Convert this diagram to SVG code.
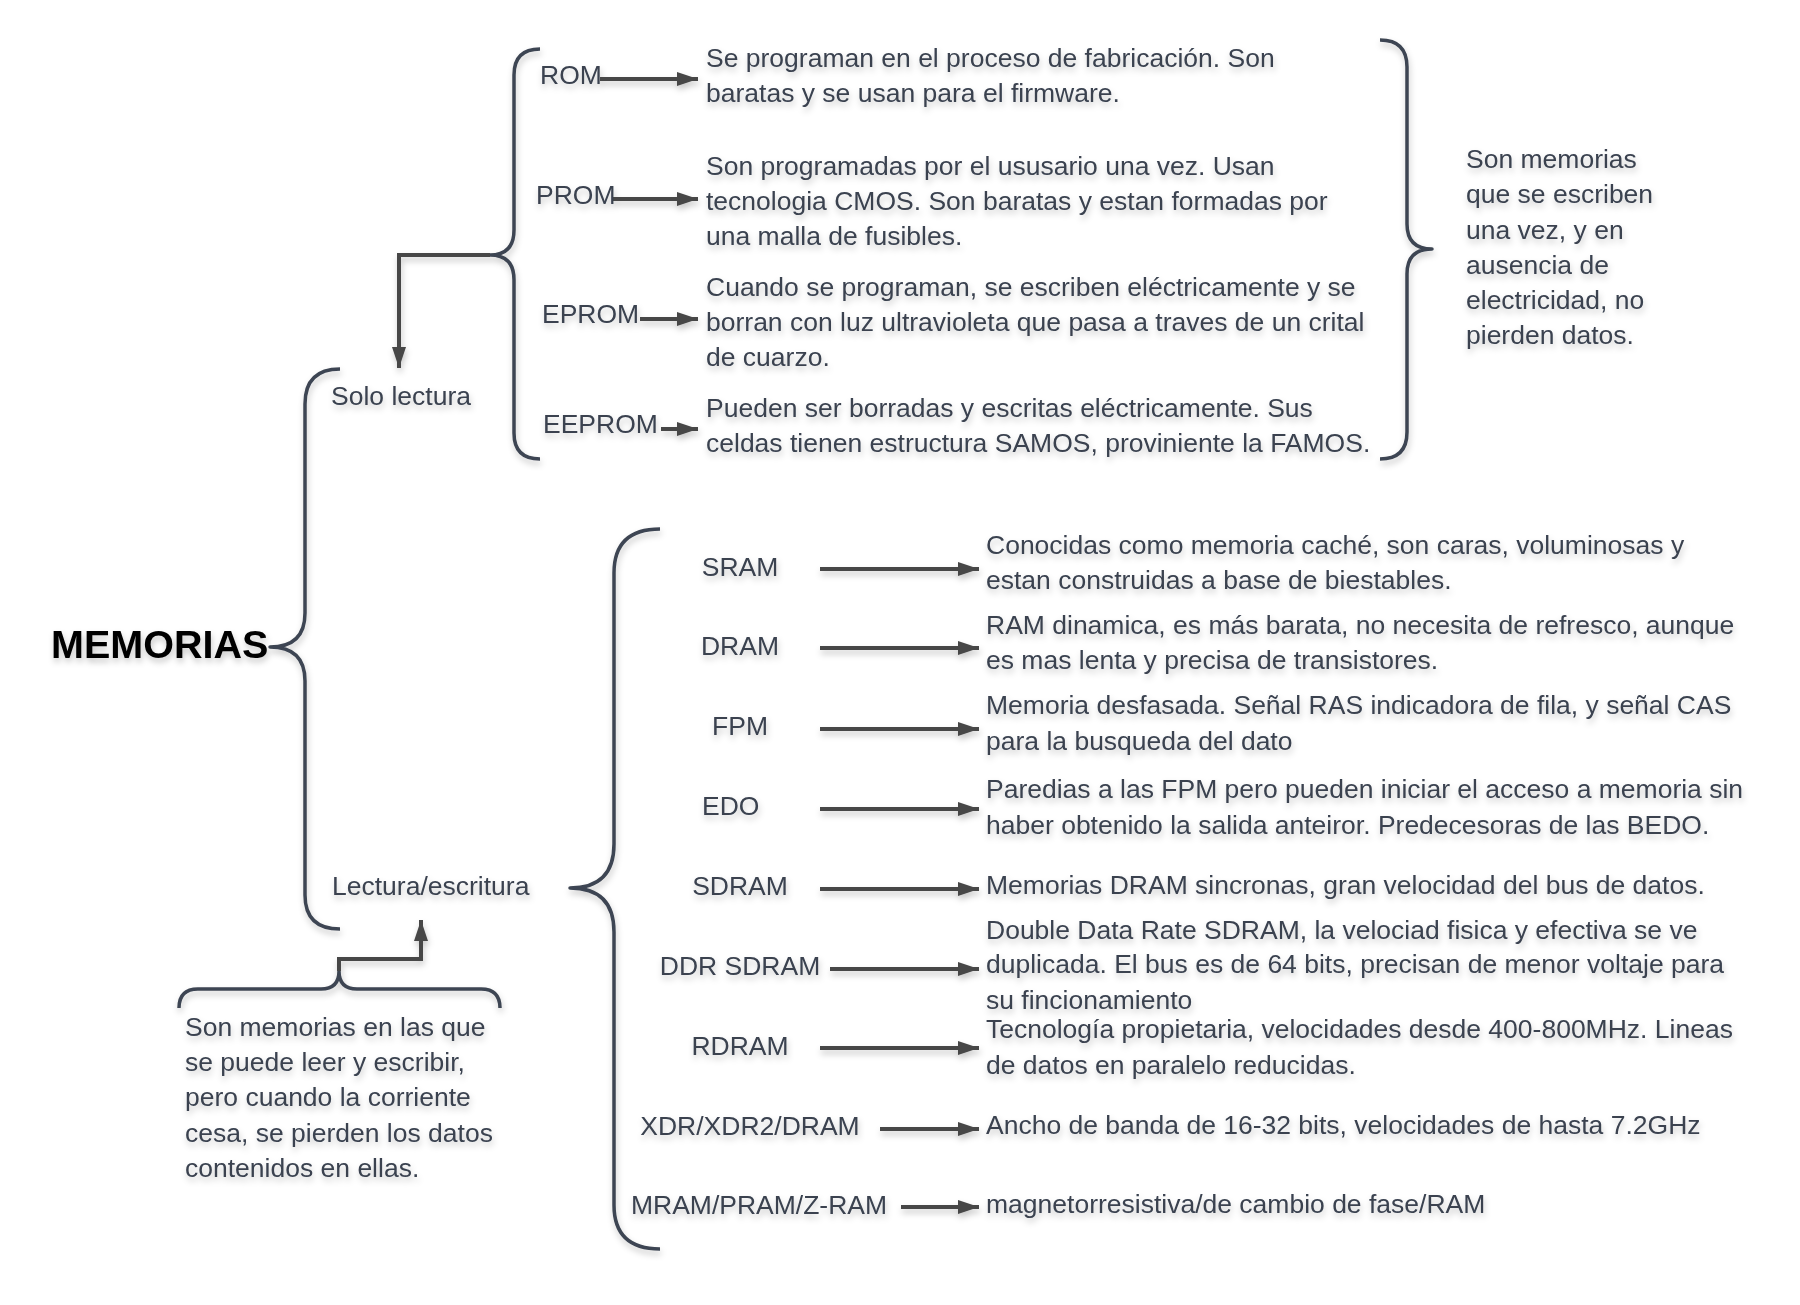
<svg xmlns="http://www.w3.org/2000/svg" width="1800" height="1305" viewBox="0 0 1800 1305">
<defs>
<filter id="sh" x="-10%" y="-20%" width="120%" height="160%">
<feDropShadow dx="1" dy="4" stdDeviation="3" flood-color="#000" flood-opacity="0.22"/>
</filter>
<marker id="ah" viewBox="0 0 21 14" refX="21" refY="7" markerWidth="21" markerHeight="14" markerUnits="userSpaceOnUse" orient="auto">
<path d="M0,0 L21,7 L0,14 Z" fill="#474747"/>
</marker>
</defs>
<style>
text{font-family:"Liberation Sans",Arial,sans-serif;fill:#3a4250;}
.lbl{font-size:26.5px;}
.desc{font-size:26.5px;}
.title{font-size:39.5px;font-weight:bold;fill:#000;}
.brace{fill:none;stroke:#3d4552;stroke-width:3.5;stroke-linejoin:round;stroke-linecap:butt;}
.arr{fill:none;stroke:#474747;stroke-width:4;marker-end:url(#ah);}
</style>
<rect width="1800" height="1305" fill="#ffffff"/>
<g filter="url(#sh)">
<g id="braces">
<path class="brace" d="M540,49 Q514,49 514,75 V230 Q514,255 490,255 Q514,255 514,280 V433 Q514,459 540,459"/>
<path class="brace" d="M1380,40 Q1407,40 1407,67 V224 Q1407,249 1432,249 Q1407,249 1407,274 V432 Q1407,459 1380,459"/>
<path class="brace" d="M340,369 Q305,369 305,404 V613 Q305,647 270,647 Q305,647 305,681 V895 Q305,929 340,929"/>
<path class="brace" d="M660,529 Q614,529 614,573 V844 Q614,888 570,888 Q614,888 614,932 V1205 Q614,1249 660,1249"/>
<path class="brace" d="M179,1008 Q179,989 198,989 H321 Q339,989 339,971 Q339,989 357,989 H481 Q500,989 500,1008"/>
</g>
<g id="connectors">
<path class="arr" d="M490,255 H399 V368"/>
<path class="arr" d="M339,971 V959 H421 V920"/>
<path class="arr" d="M600,79 H698"/>
<path class="arr" d="M613,199 H698"/>
<path class="arr" d="M640,319 H698"/>
<path class="arr" d="M661,429 H698"/>
<path class="arr" d="M820,569 H979"/>
<path class="arr" d="M820,648 H979"/>
<path class="arr" d="M820,729 H979"/>
<path class="arr" d="M820,809 H979"/>
<path class="arr" d="M820,889 H979"/>
<path class="arr" d="M830,969 H979"/>
<path class="arr" d="M820,1048 H979"/>
<path class="arr" d="M880,1129 H979"/>
<path class="arr" d="M901,1207 H979"/>
</g>
<g id="memorias"><text class="title" x="51" y="658">MEMORIAS</text></g>
<g id="solo-lectura"><text class="lbl" x="331" y="405">Solo lectura</text></g>
<g id="lectura-escritura"><text class="lbl" x="332" y="895">Lectura/escritura</text></g>
<g id="nota-lectura-escritura"><text class="desc">
<tspan x="185" y="1036">Son memorias en las que</tspan>
<tspan x="185" y="1071">se puede leer y escribir,</tspan>
<tspan x="185" y="1106">pero cuando la corriente</tspan>
<tspan x="185" y="1142">cesa, se pierden los datos</tspan>
<tspan x="185" y="1177">contenidos en ellas.</tspan>
</text></g>
<g id="nota-solo-lectura"><text class="desc">
<tspan x="1466" y="168">Son memorias</tspan>
<tspan x="1466" y="203">que se escriben</tspan>
<tspan x="1466" y="239">una vez, y en</tspan>
<tspan x="1466" y="274">ausencia de</tspan>
<tspan x="1466" y="309">electricidad, no</tspan>
<tspan x="1466" y="344">pierden datos.</tspan>
</text></g>
<g id="rom"><text class="lbl" x="540" y="84">ROM</text></g>
<g id="rom-desc"><text class="desc">
<tspan x="706" y="67">Se programan en el proceso de fabricación. Son</tspan>
<tspan x="706" y="102">baratas y se usan para el firmware.</tspan>
</text></g>
<g id="prom"><text class="lbl" x="536" y="204">PROM</text></g>
<g id="prom-desc"><text class="desc">
<tspan x="706" y="175">Son programadas por el ususario una vez. Usan</tspan>
<tspan x="706" y="210">tecnologia CMOS. Son baratas y estan formadas por</tspan>
<tspan x="706" y="245">una malla de fusibles.</tspan>
</text></g>
<g id="eprom"><text class="lbl" x="542" y="323">EPROM</text></g>
<g id="eprom-desc"><text class="desc">
<tspan x="706" y="296">Cuando se programan, se escriben eléctricamente y se</tspan>
<tspan x="706" y="331">borran con luz ultravioleta que pasa a traves de un crital</tspan>
<tspan x="706" y="366">de cuarzo.</tspan>
</text></g>
<g id="eeprom"><text class="lbl" x="543" y="433">EEPROM</text></g>
<g id="eeprom-desc"><text class="desc">
<tspan x="706" y="417">Pueden ser borradas y escritas eléctricamente. Sus</tspan>
<tspan x="706" y="452">celdas tienen estructura SAMOS, proviniente la FAMOS.</tspan>
</text></g>
<g id="sram"><text class="lbl" x="740" y="576" text-anchor="middle">SRAM</text></g>
<g id="sram-desc"><text class="desc">
<tspan x="986" y="554">Conocidas como memoria caché, son caras, voluminosas y</tspan>
<tspan x="986" y="589">estan construidas a base de biestables.</tspan>
</text></g>
<g id="dram"><text class="lbl" x="740" y="655" text-anchor="middle">DRAM</text></g>
<g id="dram-desc"><text class="desc">
<tspan x="986" y="634">RAM dinamica, es más barata, no necesita de refresco, aunque</tspan>
<tspan x="986" y="669">es mas lenta y precisa de transistores.</tspan>
</text></g>
<g id="fpm"><text class="lbl" x="740" y="735" text-anchor="middle">FPM</text></g>
<g id="fpm-desc"><text class="desc">
<tspan x="986" y="714">Memoria desfasada. Señal RAS indicadora de fila, y señal CAS</tspan>
<tspan x="986" y="750">para la busqueda del dato</tspan>
</text></g>
<g id="edo"><text class="lbl" x="702" y="815">EDO</text></g>
<g id="edo-desc"><text class="desc">
<tspan x="986" y="798">Paredias a las FPM pero pueden iniciar el acceso a memoria sin</tspan>
<tspan x="986" y="834">haber obtenido la salida anteiror. Predecesoras de las BEDO.</tspan>
</text></g>
<g id="sdram"><text class="lbl" x="740" y="895" text-anchor="middle">SDRAM</text></g>
<g id="sdram-desc"><text class="desc" x="986" y="894">Memorias DRAM sincronas, gran velocidad del bus de datos.</text></g>
<g id="ddr-sdram"><text class="lbl" x="740" y="975" text-anchor="middle">DDR SDRAM</text></g>
<g id="ddr-sdram-desc"><text class="desc">
<tspan x="986" y="939">Double Data Rate SDRAM, la velociad fisica y efectiva se ve</tspan>
<tspan x="986" y="973">duplicada. El bus es de 64 bits, precisan de menor voltaje para</tspan>
<tspan x="986" y="1009">su fincionamiento</tspan>
</text></g>
<g id="rdram"><text class="lbl" x="740" y="1055" text-anchor="middle">RDRAM</text></g>
<g id="rdram-desc"><text class="desc">
<tspan x="986" y="1038">Tecnología propietaria, velocidades desde 400-800MHz. Lineas</tspan>
<tspan x="986" y="1074">de datos en paralelo reducidas.</tspan>
</text></g>
<g id="xdr"><text class="lbl" x="750" y="1135" text-anchor="middle">XDR/XDR2/DRAM</text></g>
<g id="xdr-desc"><text class="desc" x="986" y="1134">Ancho de banda de 16-32 bits, velocidades de hasta 7.2GHz</text></g>
<g id="mram"><text class="lbl" x="759" y="1214" text-anchor="middle">MRAM/PRAM/Z-RAM</text></g>
<g id="mram-desc"><text class="desc" x="986" y="1213">magnetorresistiva/de cambio de fase/RAM</text></g>
</g>
</svg>
